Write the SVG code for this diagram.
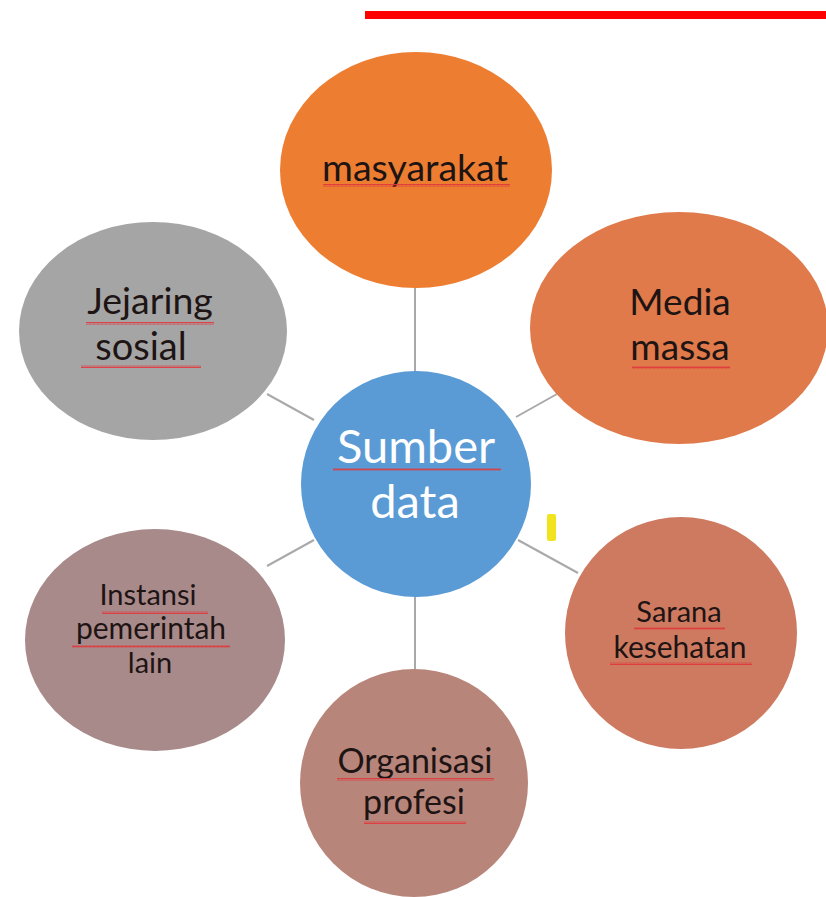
<svg xmlns="http://www.w3.org/2000/svg" width="826" height="897" viewBox="0 0 826 897">
  <defs>
    <!-- spell-check style wavy underline -->
    <pattern id="wave" width="4" height="3" patternUnits="userSpaceOnUse">
      <path d="M0,2.5 L1,0.5 L2,2.5 L3,0.5 L4,2.5" fill="none" stroke="#e0383c" stroke-width="0.9"/>
    </pattern>
    <style>
      .link { stroke: #a9a9a9; stroke-width: 2; fill: none; }
      .lbl { font-family: Lato, "Open Sans", "Liberation Sans", sans-serif; text-anchor: middle; fill: #1e1414; }
      .hub { fill: #ffffff; }
      .sq { fill: url(#wave); }
    </style>
  </defs>
  <rect width="826" height="897" fill="#ffffff"/>
  <rect x="365" y="11" width="461" height="8" fill="#ff0000"/>

  <g id="connectors">
    <line class="link" x1="415" y1="287" x2="415" y2="372"/>
    <line class="link" x1="516" y1="417" x2="557" y2="394"/>
    <line class="link" x1="267" y1="394" x2="314" y2="420"/>
    <line class="link" x1="267" y1="566" x2="314" y2="540"/>
    <line class="link" x1="518" y1="540" x2="578" y2="573"/>
    <line class="link" x1="415" y1="597" x2="415" y2="670"/>
  </g>

  <g id="node-masyarakat">
    <ellipse cx="416" cy="170" rx="136" ry="118" fill="#ed7d31"/>
    <text class="lbl" x="415" y="181" font-size="37.5">masyarakat</text>
    <rect class="sq" x="323" y="184" width="187" height="3"/>
  </g>

  <g id="node-jejaring">
    <ellipse cx="153" cy="331" rx="134" ry="109" fill="#a5a5a5"/>
    <text class="lbl" x="150" y="314" font-size="37.5">Jejaring</text>
    <text class="lbl" x="141" y="360" font-size="38">sosial</text>
    <rect class="sq" x="86" y="322" width="128" height="3"/>
    <rect class="sq" x="81" y="365" width="120" height="3"/>
  </g>

  <g id="node-media">
    <ellipse cx="679" cy="328" rx="149" ry="116" fill="#e07a4a"/>
    <text class="lbl" x="680" y="315" font-size="37">Media</text>
    <text class="lbl" x="680" y="360" font-size="37">massa</text>
    <rect class="sq" x="632" y="366" width="98" height="3"/>
  </g>

  <g id="node-sumber">
    <ellipse cx="416" cy="484" rx="115" ry="113" fill="#5b9bd5"/>
    <text class="lbl hub" x="416" y="463" font-size="47">Sumber</text>
    <text class="lbl hub" x="415" y="518" font-size="47">data</text>
    <rect class="sq" x="333" y="468" width="168" height="3"/>
  </g>

  <rect id="mark" x="547" y="514" width="9" height="27" rx="2" fill="#f2e31f"/>

  <g id="node-sarana">
    <ellipse cx="681" cy="633" rx="116" ry="116" fill="#cd7a60"/>
    <text class="lbl" x="679" y="622" font-size="29">Sarana</text>
    <text class="lbl" x="680" y="658" font-size="30">kesehatan</text>
    <rect class="sq" x="634" y="627" width="91" height="3"/>
    <rect class="sq" x="610" y="662" width="142" height="3"/>
  </g>

  <g id="node-instansi">
    <ellipse cx="155" cy="640" rx="130" ry="111" fill="#a88a8a"/>
    <text class="lbl" x="148" y="605" font-size="29">Instansi</text>
    <text class="lbl" x="151" y="639" font-size="30">pemerintah</text>
    <text class="lbl" x="150" y="673" font-size="29">lain</text>
    <rect class="sq" x="102" y="611" width="106" height="3"/>
    <rect class="sq" x="72" y="645" width="158" height="3"/>
  </g>

  <g id="node-organisasi">
    <ellipse cx="414" cy="783" rx="114" ry="114" fill="#b8857a"/>
    <text class="lbl" x="415" y="773" font-size="34">Organisasi</text>
    <text class="lbl" x="414" y="814" font-size="34">profesi</text>
    <rect class="sq" x="337" y="778" width="157" height="3"/>
    <rect class="sq" x="364" y="821" width="102" height="3"/>
  </g>
</svg>
